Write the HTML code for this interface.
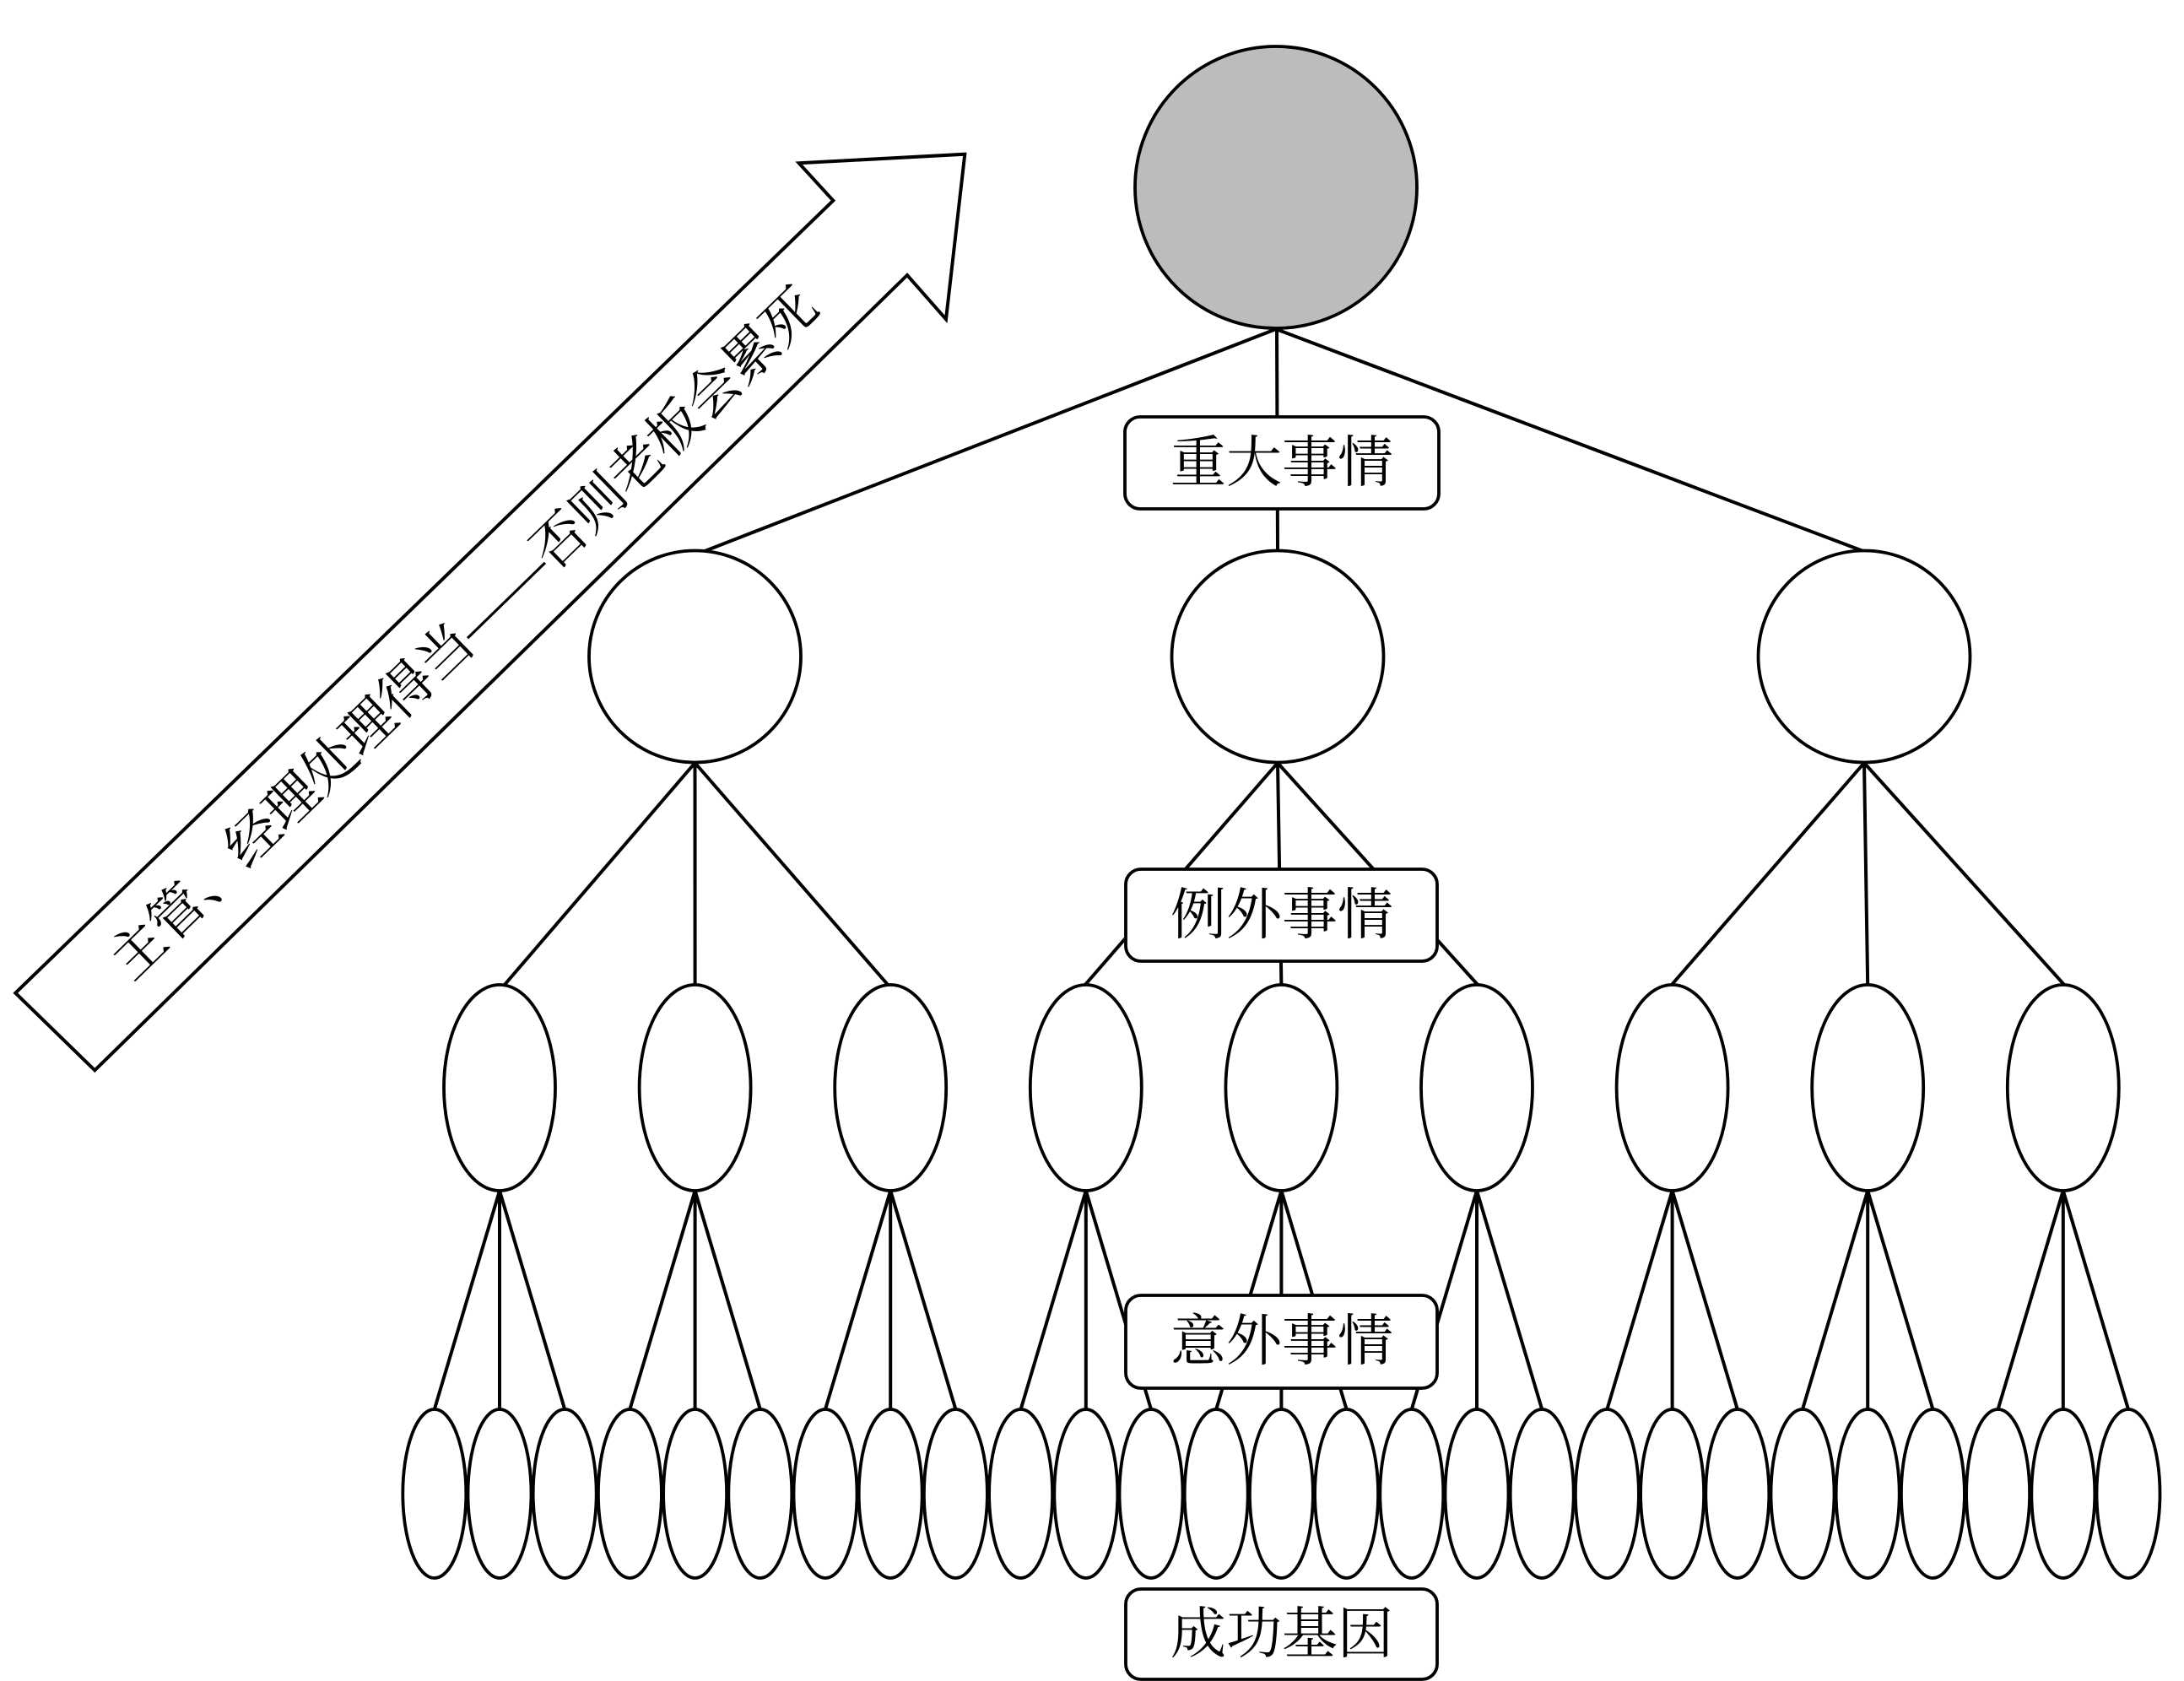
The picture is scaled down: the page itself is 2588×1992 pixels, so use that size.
<!DOCTYPE html>
<html>
<head>
<meta charset="utf-8">
<style>
html,body{margin:0;padding:0;background:#fff;}
svg{display:block;}
text{font-family:"Liberation Serif","Noto Serif CJK SC","Noto Sans CJK SC",serif;fill:#000;}
</style>
</head>
<body>
<svg width="2588" height="1992" viewBox="0 0 2588 1992" xmlns="http://www.w3.org/2000/svg">
<rect x="0" y="0" width="2588" height="1992" fill="#fff"/>

<!-- Arrow -->
<polygon points="18.3,1176.7 987.3,237.7 946.7,193.3 1143.3,182.7 1121,378.3 1075,326 112.3,1268.3" fill="#fff" stroke="#000" stroke-width="4" stroke-linejoin="miter"/>
<text x="550" y="751" font-size="64" text-anchor="middle" dominant-baseline="central" textLength="1140" lengthAdjust="spacing" transform="rotate(-44.2 550 751)">主管、经理处理得当——否则老板会累死</text>

<g stroke="#000" stroke-width="4" fill="none" stroke-linecap="round">
  <!-- top circle to level 2 -->
  <line x1="1512" y1="390" x2="830" y2="655"/>
  <line x1="1513" y1="390" x2="1514" y2="652"/>
  <line x1="1512" y1="390" x2="2213" y2="655"/>

  <!-- level 2 to level 3 -->
  <line x1="823.5" y1="904" x2="597" y2="1168"/>
  <line x1="823.5" y1="904" x2="823.6" y2="1167"/>
  <line x1="823.5" y1="904" x2="1053" y2="1168"/>

  <line x1="1514" y1="904" x2="1285" y2="1168"/>
  <line x1="1514" y1="904" x2="1518.4" y2="1167"/>
  <line x1="1514" y1="904" x2="1752" y2="1168"/>

  <line x1="2209" y1="904" x2="1980" y2="1168"/>
  <line x1="2209" y1="904" x2="2213.2" y2="1167"/>
  <line x1="2209" y1="904" x2="2447" y2="1168"/>

  <!-- level 3 to level 4 -->
  <line x1="592" y1="1411" x2="514.8" y2="1670"/><line x1="592" y1="1411" x2="592" y2="1670"/><line x1="592" y1="1411" x2="669.2" y2="1670"/>
  <line x1="823.6" y1="1411" x2="746.4" y2="1670"/><line x1="823.6" y1="1411" x2="823.6" y2="1670"/><line x1="823.6" y1="1411" x2="900.8" y2="1670"/>
  <line x1="1055.2" y1="1411" x2="978" y2="1670"/><line x1="1055.2" y1="1411" x2="1055.2" y2="1670"/><line x1="1055.2" y1="1411" x2="1132.4" y2="1670"/>
  <line x1="1286.8" y1="1411" x2="1209.6" y2="1670"/><line x1="1286.8" y1="1411" x2="1286.8" y2="1670"/><line x1="1286.8" y1="1411" x2="1364" y2="1670"/>
  <line x1="1518.4" y1="1411" x2="1441.2" y2="1670"/><line x1="1518.4" y1="1411" x2="1518.4" y2="1670"/><line x1="1518.4" y1="1411" x2="1595.6" y2="1670"/>
  <line x1="1750" y1="1411" x2="1672.8" y2="1670"/><line x1="1750" y1="1411" x2="1750" y2="1670"/><line x1="1750" y1="1411" x2="1827.2" y2="1670"/>
  <line x1="1981.6" y1="1411" x2="1904.4" y2="1670"/><line x1="1981.6" y1="1411" x2="1981.6" y2="1670"/><line x1="1981.6" y1="1411" x2="2058.8" y2="1670"/>
  <line x1="2213.2" y1="1411" x2="2136" y2="1670"/><line x1="2213.2" y1="1411" x2="2213.2" y2="1670"/><line x1="2213.2" y1="1411" x2="2290.4" y2="1670"/>
  <line x1="2444.8" y1="1411" x2="2367.6" y2="1670"/><line x1="2444.8" y1="1411" x2="2444.8" y2="1670"/><line x1="2444.8" y1="1411" x2="2522" y2="1670"/>
</g>

<g stroke="#000" stroke-width="3.8" fill="#fff">
  <!-- top circle -->
  <circle cx="1512" cy="222" r="167" fill="#bdbcbd"/>

  <!-- level 2 -->
  <circle cx="823.5" cy="778" r="125.5"/>
  <circle cx="1514" cy="778" r="125.5"/>
  <circle cx="2209" cy="778" r="125.5"/>

  <!-- level 3 -->
  <ellipse cx="592" cy="1289" rx="66" ry="122"/>
  <ellipse cx="823.6" cy="1289" rx="66" ry="122"/>
  <ellipse cx="1055.2" cy="1289" rx="66" ry="122"/>
  <ellipse cx="1286.8" cy="1289" rx="66" ry="122"/>
  <ellipse cx="1518.4" cy="1289" rx="66" ry="122"/>
  <ellipse cx="1750" cy="1289" rx="66" ry="122"/>
  <ellipse cx="1981.6" cy="1289" rx="66" ry="122"/>
  <ellipse cx="2213.2" cy="1289" rx="66" ry="122"/>
  <ellipse cx="2444.8" cy="1289" rx="66" ry="122"/>

  <!-- level 4 -->
  <ellipse cx="514.8" cy="1770" rx="37.5" ry="100"/>
  <ellipse cx="592" cy="1770" rx="37.5" ry="100"/>
  <ellipse cx="669.2" cy="1770" rx="37.5" ry="100"/>
  <ellipse cx="746.4" cy="1770" rx="37.5" ry="100"/>
  <ellipse cx="823.6" cy="1770" rx="37.5" ry="100"/>
  <ellipse cx="900.8" cy="1770" rx="37.5" ry="100"/>
  <ellipse cx="978" cy="1770" rx="37.5" ry="100"/>
  <ellipse cx="1055.2" cy="1770" rx="37.5" ry="100"/>
  <ellipse cx="1132.4" cy="1770" rx="37.5" ry="100"/>
  <ellipse cx="1209.6" cy="1770" rx="37.5" ry="100"/>
  <ellipse cx="1286.8" cy="1770" rx="37.5" ry="100"/>
  <ellipse cx="1364" cy="1770" rx="37.5" ry="100"/>
  <ellipse cx="1441.2" cy="1770" rx="37.5" ry="100"/>
  <ellipse cx="1518.4" cy="1770" rx="37.5" ry="100"/>
  <ellipse cx="1595.6" cy="1770" rx="37.5" ry="100"/>
  <ellipse cx="1672.8" cy="1770" rx="37.5" ry="100"/>
  <ellipse cx="1750" cy="1770" rx="37.5" ry="100"/>
  <ellipse cx="1827.2" cy="1770" rx="37.5" ry="100"/>
  <ellipse cx="1904.4" cy="1770" rx="37.5" ry="100"/>
  <ellipse cx="1981.6" cy="1770" rx="37.5" ry="100"/>
  <ellipse cx="2058.8" cy="1770" rx="37.5" ry="100"/>
  <ellipse cx="2136" cy="1770" rx="37.5" ry="100"/>
  <ellipse cx="2213.2" cy="1770" rx="37.5" ry="100"/>
  <ellipse cx="2290.4" cy="1770" rx="37.5" ry="100"/>
  <ellipse cx="2367.6" cy="1770" rx="37.5" ry="100"/>
  <ellipse cx="2444.8" cy="1770" rx="37.5" ry="100"/>
  <ellipse cx="2522" cy="1770" rx="37.5" ry="100"/>

  <!-- label boxes -->
  <rect x="1333" y="494" width="372" height="109" rx="18" ry="18"/>
  <rect x="1334" y="1030" width="369" height="109" rx="18" ry="18"/>
  <rect x="1334" y="1535" width="369" height="110" rx="18" ry="18"/>
  <rect x="1334" y="1883" width="369" height="107" rx="18" ry="18"/>
</g>

<g font-size="66" text-anchor="middle" dominant-baseline="central">
  <text x="1519" y="549">重大事情</text>
  <text x="1519" y="1085">例外事情</text>
  <text x="1519" y="1590">意外事情</text>
  <text x="1519" y="1937">成功基因</text>
</g>
</svg>
</body>
</html>
